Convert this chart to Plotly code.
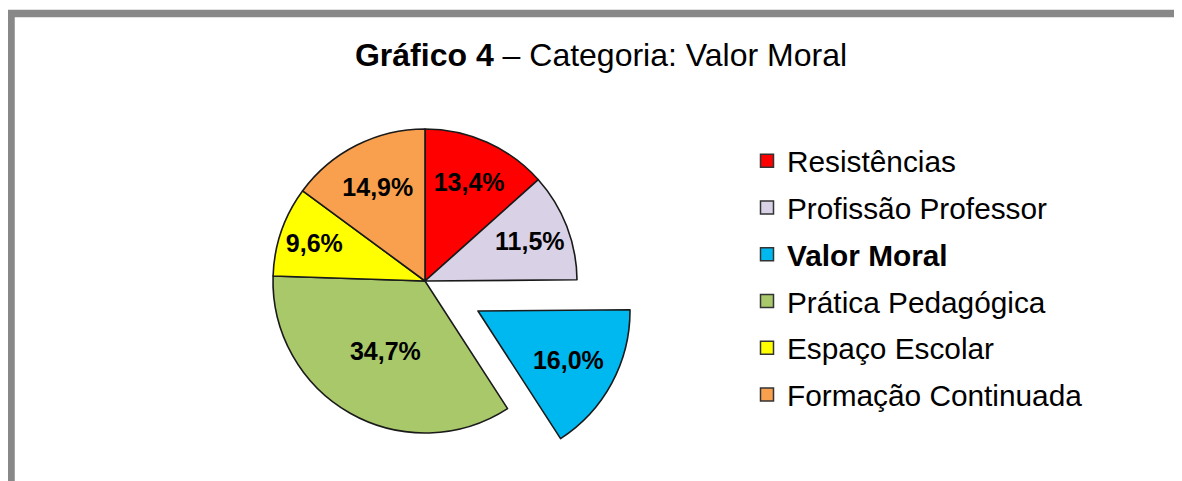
import plotly.graph_objects as go

# ---- data ----
categories = ["Resistências", "Profissão Professor", "Valor Moral",
              "Prática Pedagógica", "Espaço Escolar", "Formação Continuada"]
values = [13.4, 11.5, 16.0, 34.7, 9.6, 14.9]
colors = ["#FF0000", "#D9D2E6", "#00B8F0", "#A8C86A", "#FFFF00", "#F9A04E"]
highlight = "Valor Moral"
title_bold = "Gráfico 4"
title_rest = " – Categoria: Valor Moral"

# ---- layout geometry (screen pixels; page body has an 8px margin) ----
W, H = 1182, 481
OFF = 8
FONT = "Liberation Sans, Arial, sans-serif"
EDGE = "#1a1a1a"
CLEAR = "rgba(0,0,0,0)"


def fx(x):
    return (x - OFF) / W


def fy(y):
    return 1 - (y - OFF) / H


def px_domain(cx, cy, r):
    return dict(x=[fx(cx - r), fx(cx + r)], y=[fy(cy + r), fy(cy - r)])


is_hl = [c == highlight for c in categories]
label_tpl = "<b>%{value:.1f}%</b>"

fig = go.Figure()

# main pie (highlighted slice left empty)
fig.add_trace(go.Pie(
    labels=categories, values=values, sort=False, direction="clockwise", rotation=0,
    domain=px_domain(425, 281, 152),
    marker=dict(colors=[CLEAR if h else c for c, h in zip(colors, is_hl)],
                line=dict(color=[CLEAR if h else EDGE for h in is_hl], width=1.6)),
    texttemplate=label_tpl,
    textposition=["none" if h else "inside" for h in is_hl],
    insidetextorientation="horizontal",
    insidetextfont=dict(family=FONT, size=25, color="black"),
    showlegend=False, hoverinfo="label+value",
))

# exploded slice
fig.add_trace(go.Pie(
    labels=categories, values=values, sort=False, direction="clockwise", rotation=0,
    domain=px_domain(478, 311, 152),
    marker=dict(colors=[c if h else CLEAR for c, h in zip(colors, is_hl)],
                line=dict(color=[EDGE if h else CLEAR for h in is_hl], width=1.6)),
    texttemplate=label_tpl,
    textposition=["inside" if h else "none" for h in is_hl],
    insidetextorientation="horizontal",
    insidetextfont=dict(family=FONT, size=25, color="black"),
    showlegend=False, hoverinfo="skip",
))

# legend entries
for cat, col, h in zip(categories, colors, is_hl):
    fig.add_trace(go.Scatter(
        x=[None], y=[None], mode="markers",
        name=f"<b>{cat}</b>" if h else cat, legendgroup=cat,
        marker=dict(symbol="square", size=13, color=col,
                    line=dict(color="#333333", width=1.5)),
    ))

fig.update_layout(
    width=W, height=H,
    margin=dict(l=0, r=0, t=0, b=0),
    paper_bgcolor="white", plot_bgcolor="white",
    separators=",.",
    xaxis=dict(visible=False), yaxis=dict(visible=False),
    title=dict(text=f"<b>{title_bold}</b>{title_rest}",
               x=fx(601), xanchor="center", y=fy(55), yanchor="middle",
               font=dict(family=FONT, size=32, color="black")),
    legend=dict(x=fx(747), xanchor="left", y=fy(135), yanchor="top",
                font=dict(family=FONT, size=29.8, color="black"),
                traceorder="grouped", tracegroupgap=5,
                bgcolor="rgba(0,0,0,0)", itemclick=False, itemdoubleclick=False),
    shapes=[dict(type="rect", xref="paper", yref="paper",
                 x0=fx(11), x1=1.05, y0=-0.05, y1=fy(13.5),
                 line=dict(color="#888888", width=7.5), layer="above")],
)

fig.write_html("out.html")
